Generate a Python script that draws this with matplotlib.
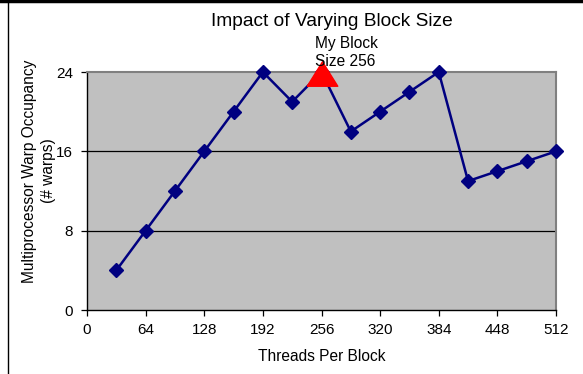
import matplotlib
matplotlib.use("Agg")
import matplotlib.pyplot as plt
from matplotlib.lines import Line2D

threads = [32, 64, 96, 128, 160, 192, 224, 256, 288, 320, 352, 384, 416, 448, 480, 512]
occupancy = [4, 8, 12, 16, 20, 24, 21, 24, 18, 20, 22, 24, 13, 14, 15, 16]
highlight_x = [256]
highlight_y = [24]
x_ticks = [0, 64, 128, 192, 256, 320, 384, 448, 512]
y_ticks = [0, 8, 16, 24]

plt.rcParams['font.family'] = ['Liberation Sans', 'DejaVu Sans']

fig = plt.figure(figsize=(5.83, 3.74), dpi=100)
W, H = 583, 374
ax = fig.add_axes([87 / W, 1 - 310 / H, (556 - 87) / W, (310 - 72) / H])
ax.set_facecolor('#C0C0C0')
ax.set_xlim(0, 512)
ax.set_ylim(0, 24)

for y in y_ticks[1:-1]:
    ax.axhline(y, color='black', lw=0.9, zorder=1)

ax.plot(threads, occupancy, color='#000080', lw=1.8, marker='D', ms=7,
        markerfacecolor='#000080', markeredgecolor='#000080', zorder=3, clip_on=False)
tri = [(-1, -0.9), (1, -0.9), (0, 0.7), (-1, -0.9)]
ax.plot(highlight_x, highlight_y, linestyle='none', marker=tri, ms=22,
        color='#FF0000', zorder=4, clip_on=False)
ax.text(249, 25.95, "My Block\nSize 256", fontsize=11.2, ha='left', va='center',
        linespacing=1.3, zorder=5)

ax.set_xticks(x_ticks)
ax.set_yticks(y_ticks)
ax.tick_params(axis='both', direction='out', length=4, width=0.9, labelsize=11, colors='black')
ax.tick_params(axis='x', pad=5)
ax.tick_params(axis='y', pad=6)

for s in ['left', 'bottom']:
    ax.spines[s].set_color('black')
    ax.spines[s].set_linewidth(1.0)
for s in ['top', 'right']:
    ax.spines[s].set_color('#808080')
    ax.spines[s].set_linewidth(1.5)

ax.set_xlabel("Threads Per Block", fontsize=11.2, labelpad=9)
fig.text(39 / W, 1 - 171 / H, "Multiprocessor Warp Occupancy\n(# warps)", fontsize=11.2,
         rotation=90, ha='center', va='center', multialignment='center', linespacing=1.25)
fig.text(332 / W, 1 - 22 / H, "Impact of Varying Block Size", fontsize=13.8,
         ha='center', va='center')

fig.add_artist(Line2D([0, 1], [1 - 1 / H, 1 - 1 / H], transform=fig.transFigure,
                      color='black', lw=2.5))
fig.add_artist(Line2D([7.5 / W, 7.5 / W], [0, 1], transform=fig.transFigure,
                      color='black', lw=1.0))

fig.savefig("out.png", dpi=100)
